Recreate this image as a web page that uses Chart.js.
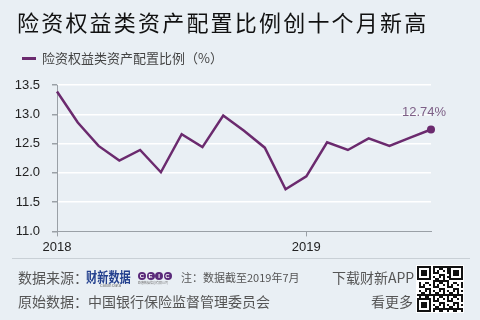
<!DOCTYPE html>
<html>
<head>
<meta charset="utf-8">
<script src="https://cdn.jsdelivr.net/npm/chart.js@4.4.1/dist/chart.umd.min.js"></script>
<style>
html,body{margin:0;padding:0;}
body{width:480px;height:320px;background:#e9eff4;position:relative;overflow:hidden;font-family:"Noto Sans CJK SC","Noto Sans",sans-serif;}
#wrap{position:absolute;left:0;top:0;width:480px;height:320px;}
.t{position:absolute;white-space:nowrap;line-height:1.2;}
#title{left:17px;top:8px;font-size:22px;letter-spacing:2.2px;color:#111;}
#legline{position:absolute;left:22px;top:57px;width:14px;height:3px;background:#6b2a6e;}
#legtxt{left:42px;top:50px;font-size:13px;color:#444;}
#sep{position:absolute;left:12px;top:258px;width:458px;height:1px;background:#c9d0d6;}
.f{font-size:14px;color:#555;}
.ceic{position:absolute;top:272px;width:8px;height:8px;border-radius:50%;background:#5a2a7a;color:#fff;font:bold 6px Arial;text-align:center;line-height:8px;}
</style>
</head>
<body>
<div id="wrap"><canvas id="c" width="480" height="320"></canvas></div>
<div class="t" id="title">险资权益类资产配置比例创十个月新高</div>
<div id="legline"></div>
<div class="t" id="legtxt">险资权益类资产配置比例（%）</div>
<div id="sep"></div>
<div class="t f" style="left:18px;top:269px;">数据来源：</div>
<div class="t" style="left:86px;top:268px;font-size:14px;font-weight:bold;color:#23408e;transform:scaleX(0.8);transform-origin:left top;">财新数据</div>
<div class="t" style="left:100px;top:283px;font-size:4px;color:#666;line-height:1;">Caixin Data</div>
<div class="ceic" style="left:138px;">C</div>
<div class="ceic" style="left:146.5px;">E</div>
<div class="ceic" style="left:155px;">I</div>
<div class="ceic" style="left:163.5px;">C</div>
<div class="t" style="left:138px;top:282px;font-size:3px;color:#777;line-height:1;">欧睿数据信息有限公司</div>
<div class="t" style="left:181px;top:271px;font-size:11px;color:#555;">注：数据截至2019年7月</div>
<div class="t f" style="left:332px;top:269px;">下载财新APP</div>
<div class="t f" style="left:18px;top:293px;">原始数据：中国银行保险监督管理委员会</div>
<div class="t f" style="left:371px;top:293px;">看更多</div>
<canvas id="qr" width="48" height="48" style="position:absolute;left:416px;top:265px;"></canvas>
<script>
// ---- data ----
const months = ["2018-01","2018-02","2018-03","2018-04","2018-05","2018-06","2018-07","2018-08","2018-09","2018-10","2018-11","2018-12","2019-01","2019-02","2019-03","2019-04","2019-05","2019-06","2019-07"];
const values = [13.39,12.86,12.46,12.21,12.39,12.01,12.66,12.44,12.98,12.72,12.43,11.72,11.94,12.52,12.39,12.59,12.46,12.60,12.74];
const yearTicks = [{index:0,label:"2018"},{index:12,label:"2019"}];
const yTickValues = [11.0,11.5,12.0,12.5,13.0,13.5];
const lastLabel = "12.74%";

const purple = "#6b2a6e";
const pts = values.map((v,i)=>({x:i,y:v}));

const lastLabelPlugin = {
  id:'lastLabel',
  afterDatasetsDraw(chart){
    const meta = chart.getDatasetMeta(0);
    const el = meta.data[meta.data.length-1];
    const ctx = chart.ctx;
    ctx.save();
    ctx.font = '13px "Liberation Sans", Arial, sans-serif';
    ctx.fillStyle = '#7d5f86';
    ctx.textAlign = 'center';
    ctx.textBaseline = 'bottom';
    ctx.fillText(lastLabel, el.x - 7, el.y - 11);
    ctx.restore();
  }
};

new Chart(document.getElementById('c'), {
  type:'line',
  data:{datasets:[{
    data:pts,
    clip:false,
    borderColor:purple,
    backgroundColor:purple,
    borderWidth:2.5,
    tension:0,
    pointRadius:(c)=>c.dataIndex===values.length-1?4:0,
    pointHoverRadius:0,
    pointBackgroundColor:purple,
    pointBorderWidth:0
  }]},
  options:{
    responsive:false,
    animation:false,
    events:[],
    layout:{padding:{left:0,right:49,top:85,bottom:62}},
    plugins:{legend:{display:false},tooltip:{enabled:false}},
    scales:{
      x:{
        type:'linear',
        min:0,max:values.length-1,
        afterBuildTicks(s){ s.ticks = yearTicks.map(t=>({value:t.index})); },
        ticks:{
          callback:(v)=>{const t=yearTicks.find(k=>k.index===v);return t?t.label:'';},
          color:'#222',font:{family:'"Liberation Sans", Arial, sans-serif',size:13},
          padding:3,maxRotation:0,autoSkip:false
        },
        grid:{drawOnChartArea:false,tickLength:5,color:'#9aa0a6',tickColor:'#9aa0a6'},
        border:{display:true,color:'#9aa0a6',width:1}
      },
      y:{
        min:11,max:13.5,
        afterBuildTicks(s){ s.ticks = yTickValues.map(v=>({value:v})); },
        afterFit(s){ s.width = 57; },
        ticks:{
          callback:(v)=>Number(v).toFixed(1),
          color:'#222',font:{family:'"Liberation Sans", Arial, sans-serif',size:13},
          padding:12
        },
        grid:{
          color:(c)=>c.tick && c.tick.value===11?'rgba(0,0,0,0)':'#ffffff',
          lineWidth:1.5,
          tickLength:5,tickColor:'#9aa0a6'
        },
        border:{display:true,color:'#9aa0a6',width:1}
      }
    }
  },
  plugins:[lastLabelPlugin]
});

// decorative QR-like code
(function(){
  const q=document.getElementById('qr').getContext('2d');
  q.fillStyle='#fff';q.fillRect(0,0,48,48);
  const n=23,s=2;
  q.fillStyle='#111';
  for(let i=0;i<n;i++)for(let j=0;j<n;j++){
    if(((i*i*3+j*7+i*j*5)%7)<3) q.fillRect(1+j*s,1+i*s,s,s);
  }
  function finder(x,y){q.fillStyle='#fff';q.fillRect(1+x*s,1+y*s,8*s,8*s);q.fillStyle='#111';q.fillRect(1+x*s,1+y*s,7*s,7*s);q.fillStyle='#fff';q.fillRect(1+(x+1)*s,1+(y+1)*s,5*s,5*s);q.fillStyle='#111';q.fillRect(1+(x+2)*s,1+(y+2)*s,3*s,3*s);}
  finder(0,0);finder(16,0);finder(0,16);
})();
</script>
</body>
</html>
